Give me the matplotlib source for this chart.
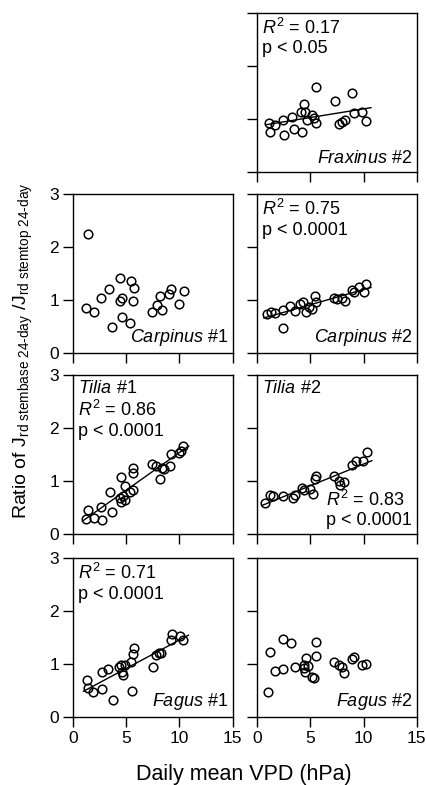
import matplotlib
matplotlib.use("Agg")
import matplotlib.pyplot as plt
import numpy as np

plt.rcParams['font.family'] = ['Liberation Sans', 'DejaVu Sans']
plt.rcParams['mathtext.fontset'] = 'custom'
plt.rcParams['mathtext.rm'] = 'Liberation Sans'
plt.rcParams['mathtext.it'] = 'Liberation Sans:italic'

# daily mean VPD (hPa) and ratio
frax2_x = [1.1, 1.25, 1.7, 2.45, 2.5, 3.25, 3.5, 4.25, 4.1, 4.45, 4.55, 4.65, 5.2, 5.35,
           5.5, 5.5, 7.3, 7.7, 8.0, 8.25, 8.95, 9.1, 9.9, 10.2]
frax2_y = [0.93, 0.76, 0.89, 0.98, 0.70, 1.04, 0.81, 0.76, 1.14, 1.28, 1.14, 0.99, 1.08, 1.01,
           1.61, 0.92, 1.34, 0.91, 0.95, 0.98, 1.50, 1.12, 1.14, 0.97]

carp1_x = [1.4, 1.25, 1.94, 2.65, 3.37, 3.69, 4.44, 4.37, 4.62, 4.62, 5.31, 5.47, 5.69, 5.62,
           7.44, 7.87, 8.19, 8.37, 9.06, 9.22, 10.0, 10.38]
carp1_y = [2.24, 0.85, 0.77, 1.04, 1.21, 0.49, 1.41, 0.98, 1.03, 0.68, 0.56, 1.36, 1.23, 0.99,
           0.77, 0.90, 1.07, 0.81, 1.11, 1.21, 0.92, 1.17]

carp2_x = [0.94, 1.32, 1.73, 2.45, 2.45, 3.14, 3.52, 4.03, 4.34, 4.56, 4.87, 5.19, 5.41, 5.5,
           7.23, 7.55, 8.0, 8.24, 8.96, 9.12, 9.59, 10.0, 10.2]
carp2_y = [0.74, 0.77, 0.76, 0.81, 0.48, 0.88, 0.79, 0.93, 0.96, 0.77, 0.87, 0.84, 1.07, 0.96,
           1.03, 1.01, 1.03, 0.98, 1.19, 1.15, 1.24, 1.15, 1.31]

til1_x = [1.41, 1.25, 1.94, 2.75, 2.65, 3.69, 3.44, 4.53, 4.37, 4.53, 4.69, 4.84, 4.84, 5.37,
          5.62, 5.62, 5.62, 7.44, 7.75, 8.19, 8.37, 8.5, 9.12, 9.22, 9.94, 10.15, 10.37]
til1_y = [0.46, 0.28, 0.30, 0.27, 0.51, 0.42, 0.80, 1.08, 0.68, 0.61, 0.71, 0.90, 0.65, 0.80,
          0.83, 1.25, 1.16, 1.32, 1.28, 1.04, 1.25, 1.23, 1.29, 1.51, 1.53, 1.56, 1.66]

til2_x = [0.75, 1.23, 1.54, 2.48, 3.42, 3.58, 4.2, 4.37, 5.0, 5.3, 5.47, 5.57, 7.2, 7.67,
          7.83, 8.14, 8.93, 9.25, 9.97, 10.28]
til2_y = [0.58, 0.74, 0.71, 0.72, 0.68, 0.74, 0.87, 0.83, 0.85, 0.76, 1.04, 1.09, 1.09, 1.0,
          0.93, 0.99, 1.31, 1.37, 1.37, 1.55]

fag1_x = [1.28, 1.44, 1.91, 2.69, 2.69, 3.31, 3.72, 4.34, 4.5, 4.56, 4.72, 4.9, 5.4, 5.5,
          5.65, 5.72, 7.53, 7.84, 8.1, 8.31, 9.25, 9.34, 10.03, 10.34]
fag1_y = [0.70, 0.54, 0.48, 0.52, 0.85, 0.90, 0.33, 0.95, 0.98, 0.85, 0.79, 0.99, 1.03, 0.50,
          1.19, 1.31, 0.94, 1.17, 1.20, 1.21, 1.45, 1.56, 1.53, 1.45]

fag2_x = [1.07, 1.23, 1.7, 2.42, 2.48, 3.18, 3.58, 4.37, 4.45, 4.53, 4.6, 4.8, 5.16, 5.31,
          5.57, 5.57, 7.2, 7.67, 7.99, 8.14, 8.93, 9.15, 9.87, 10.19]
fag2_y = [0.48, 1.22, 0.87, 1.47, 0.90, 1.40, 0.95, 0.92, 0.98, 0.85, 1.11, 0.96, 0.76, 0.73,
          1.41, 1.15, 1.04, 0.98, 0.95, 0.84, 1.09, 1.14, 0.98, 1.01]

fig = plt.figure(figsize=(4.27, 7.85), dpi=100)

lefts = [0.171, 0.602]
w = 0.374
bottoms = [0.7809, 0.5503, 0.3197, 0.0866]
h = 0.2025
FS = 13


def panel(row, col, xs, ys, name, top=None, fit=False, br_stats=None):
    ax = fig.add_axes([lefts[col], bottoms[row], w, h])
    ax.plot(xs, ys, 'o', mfc='none', mec='k', ms=6.2, mew=1.1)
    if fit:
        k, b = np.polyfit(xs, ys, 1)
        xx = np.array([min(xs) - 0.3, max(xs) + 0.5])
        ax.plot(xx, k * xx + b, 'k-', lw=1)
    ax.set_xlim(0, 15)
    ax.set_ylim(0, 3)
    ax.set_xticks([0, 5, 10, 15])
    ax.set_yticks([0, 1, 2, 3])
    ax.tick_params(direction='out', length=7, width=1, labelsize=12.5, pad=3)
    if col == 1:
        ax.set_yticklabels([])
    if row != 3:
        ax.set_xticklabels([])
    for s in ax.spines.values():
        s.set_linewidth(1)
    if name is not None:
        ax.text(0.97, 0.03, name, transform=ax.transAxes, ha='right', va='bottom', fontsize=FS)
    if top:
        ax.text(0.03, 0.97, top, transform=ax.transAxes, ha='left', va='top',
                fontsize=FS, linespacing=1.2)
    if br_stats:
        ax.text(0.97, 0.03, br_stats, transform=ax.transAxes, ha='right', va='bottom',
                fontsize=FS, linespacing=1.2, multialignment='left')
    return ax


panel(0, 1, frax2_x, frax2_y, r'$\mathit{Fraxinus}$ #2', '$R^{2}$ = 0.17\np < 0.05', fit=True)
panel(1, 0, carp1_x, carp1_y, r'$\mathit{Carpinus}$ #1')
panel(1, 1, carp2_x, carp2_y, r'$\mathit{Carpinus}$ #2', '$R^{2}$ = 0.75\np < 0.0001', fit=True)
panel(2, 0, til1_x, til1_y, None, '$\\mathit{Tilia}$ #1\n$R^{2}$ = 0.86\np < 0.0001', fit=True)
panel(2, 1, til2_x, til2_y, None, '$\\mathit{Tilia}$ #2', fit=True,
      br_stats='$R^{2}$ = 0.83\np < 0.0001')
panel(3, 0, fag1_x, fag1_y, r'$\mathit{Fagus}$ #1', '$R^{2}$ = 0.71\np < 0.0001', fit=True)
panel(3, 1, fag2_x, fag2_y, r'$\mathit{Fagus}$ #2')

fig.text(0.57, 0.013, 'Daily mean VPD (hPa)', ha='center', va='center', fontsize=15.5)
fig.text(0.055, 0.553,
         'Ratio of J$_{\\mathregular{rd\\ stembase\\ 24\u2010day}}$ /J$_{\\mathregular{rd\\ stemtop\\ 24\u2010day}}$',
         rotation=90, ha='center', va='center', fontsize=14)

fig.savefig('out.png', dpi=100)
